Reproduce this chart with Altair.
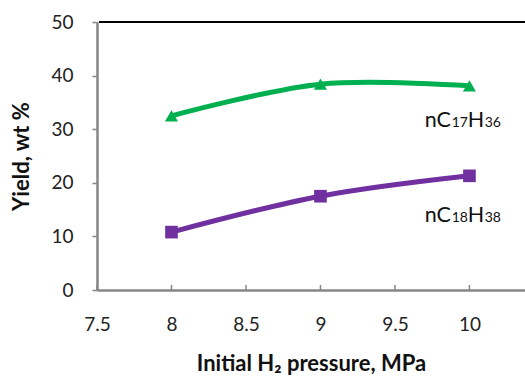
import altair as alt
import pandas as pd

# Initial hydrogen pressure (MPa) and product yields (wt %)
pressure = [8, 9, 10]
c17_yield = [32.5, 38.4, 38.1]
c18_yield = [10.8, 17.5, 21.3]

x_ticks = [7.5, 8, 8.5, 9, 9.5, 10]
y_ticks = [0, 10, 20, 30, 40, 50]

series_names = ["nC17H36", "nC18H38"]

# Formula labels: element symbols large, atom counts small
label_x = 9.7
label_y = [30.4, 12.7]
big_parts = [["nC", "H"], ["nC", "H"]]
small_parts = [["17", "36"], ["18", "38"]]

GREEN = "#00B050"
PURPLE = "#7030A0"
AXIS_GREY = "#868686"
TEXT = "#111111"
FONT = "Lato"

df = pd.DataFrame({
    "pressure": pressure * 2,
    "yield": c17_yield + c18_yield,
    "series": [series_names[0]] * 3 + [series_names[1]] * 3,
})
ticks = pd.DataFrame({"x": x_ticks})

x_scale = alt.Scale(domain=[7.5, 10.373], nice=False, zero=False)
y_scale = alt.Scale(domain=[0, 50], nice=False)

x_axis = alt.Axis(
    values=x_ticks, format="~g", title="Initial H₂ pressure, MPa", grid=False,
    domainColor=AXIS_GREY, domainWidth=2.5, ticks=False,
    labelPadding=25, labelFontSize=19, labelColor="#222222", labelFont=FONT,
    titleFontSize=22, titleFont=FONT, titleFontWeight="bold", titlePadding=19,
    titleColor=TEXT, labelFlush=False,
)
y_axis = alt.Axis(
    values=y_ticks, title="Yield, wt %", grid=False,
    domainColor=AXIS_GREY, domainWidth=2.5, tickColor=AXIS_GREY, tickWidth=1.5,
    tickSize=5, labelPadding=19, labelFontSize=19, labelColor="#222222",
    labelFont=FONT, titleFontSize=22, titleFont=FONT, titleFontWeight="bold",
    titlePadding=17, titleColor=TEXT,
)

base = alt.Chart(df).encode(
    x=alt.X("pressure:Q", scale=x_scale, axis=x_axis),
    y=alt.Y("yield:Q", scale=y_scale, axis=y_axis),
    color=alt.Color("series:N", scale=alt.Scale(domain=series_names, range=[GREEN, PURPLE]), legend=None),
)

lines = base.mark_line(strokeWidth=5, interpolate="catmull-rom")
tri = base.transform_filter(alt.datum.series == series_names[0]).mark_point(
    shape="triangle-up", filled=True, size=170, opacity=1)
sq = base.transform_filter(alt.datum.series == series_names[1]).mark_point(
    shape="square", filled=True, size=160, opacity=1)

# Top frame line at y = 50
top_rule = alt.Chart(pd.DataFrame({"y": [50]})).mark_rule(color="black", strokeWidth=2).encode(
    y=alt.Y("y:Q", scale=y_scale), x=alt.value(2), x2=alt.value(428))

# Small inward tick marks along the x axis
x_tick_marks = alt.Chart(ticks).mark_rule(color=AXIS_GREY, strokeWidth=1.5).encode(
    x=alt.X("x:Q", scale=x_scale), y=alt.value(268), y2=alt.value(263))


def piece(text, yv, size, dx):
    return alt.Chart(pd.DataFrame({"x": [label_x], "y": [yv], "t": [text]})).mark_text(
        align="left", baseline="alphabetic", fontSize=size, font=FONT, color=TEXT, dx=dx
    ).encode(x=alt.X("x:Q", scale=x_scale), y=alt.Y("y:Q", scale=y_scale), text="t:N")


formula_layers = []
for yv, big, small in zip(label_y, big_parts, small_parts):
    formula_layers += [
        piece(big[0], yv, 21.5, 0),
        piece(small[0], yv, 14, 27),
        piece(big[1], yv, 21.5, 43),
        piece(small[1], yv, 14, 60),
    ]

chart = alt.layer(top_rule, x_tick_marks, lines, tri, sq, *formula_layers).properties(
    width=428, height=268,
    autosize=alt.AutoSizeParams(type="none"),
    padding={"left": 97, "top": 22, "right": 0, "bottom": 87},
).configure_view(stroke=None).configure(background="white")

chart.save("out.html", embed_options={"renderer": "svg", "actions": False})
